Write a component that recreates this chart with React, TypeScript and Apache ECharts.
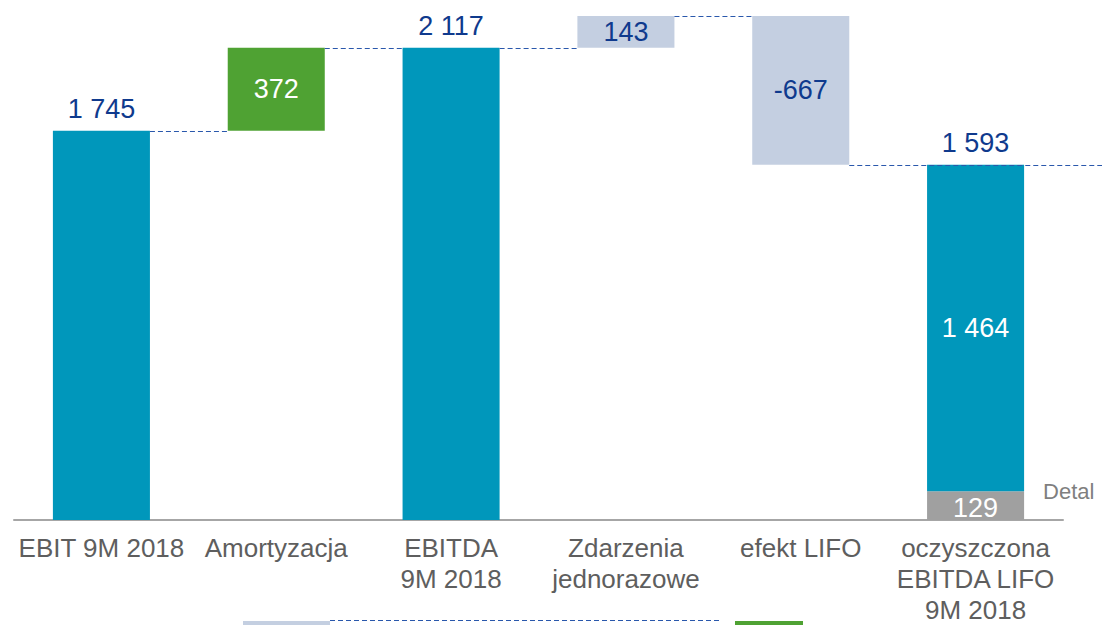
import React, { useEffect, useRef } from "react";
import * as echarts from "echarts";

const categories = [
  "EBIT 9M 2018",
  "Amortyzacja",
  "EBITDA\n9M 2018",
  "Zdarzenia\njednorazowe",
  "efekt LIFO",
  "oczyszczona\nEBITDA LIFO\n9M 2018",
];
// total = full bar from 0; other kinds = floating step
const stepValues = [1745, 372, 2117, 143, -667, 1593];
const stepKinds = ["total", "amort", "total", "oneoff", "lifo", "total"];
const detailValue = 129; // "Detal" part of the last bar
const detailLabel = "Detal";

const COLORS: Record<string, string> = {
  total: "#0097BB",
  amort: "#4FA233",
  oneoff: "#C4CFE1",
  lifo: "#C4CFE1",
  detail: "#A0A0A0",
};
const DARK = "#0F3A8D";
const DASH = "#2A58AC";
const FONT = "'Liberation Sans', Arial, sans-serif";

const fmt = (v: number) => String(v).replace(/\B(?=(\d{3})+(?!\d))/g, " ");

export default function App() {
  const ref = useRef<HTMLDivElement>(null);
  useEffect(() => {
    if (!ref.current) return;
    const chart = echarts.init(ref.current, undefined, { renderer: "svg" });

    const base: number[] = [];
    const heights: number[] = [];
    const levels: number[] = [];
    let running = 0;
    stepValues.forEach((v, i) => {
      if (stepKinds[i] === "total") {
        base.push(0);
        heights.push(v);
        running = v;
      } else if (v >= 0) {
        base.push(running);
        heights.push(v);
        running += v;
      } else {
        base.push(running + v);
        heights.push(-v);
        running += v;
      }
      levels.push(running);
    });

    const last = stepValues.length - 1;
    const detailData = stepValues.map((_, i) => (i === last ? detailValue : "-"));

    const mainData = heights.map((h, i) => {
      const kind = stepKinds[i];
      let value = h;
      if (i === last) value = h - detailValue;
      const isTotal = kind === "total" && i !== last;
      const whiteInside = kind === "amort" || i === last;
      return {
        value,
        itemStyle: { color: COLORS[kind] },
        label: {
          show: true,
          position: isTotal ? "top" : "inside",
          distance: 8,
          color: whiteInside ? "#FFFFFF" : DARK,
          formatter: () => (i === last ? fmt(value) : fmt(stepValues[i])),
        },
      };
    });

    const totalLabelData = stepValues.map((v, i) =>
      i === last
        ? {
            value: 0,
            label: {
              show: true,
              position: "top",
              distance: 8,
              color: DARK,
              formatter: () => fmt(v),
            },
          }
        : "-"
    );

    const connectorData = levels.slice(0, last).map((lv, i) => [i, lv]);
    const BAR_RATIO = 0.555;

    chart.setOption({
      animation: false,
      grid: { left: 14, right: 39, top: 7, bottom: 103, containLabel: false },
      xAxis: {
        type: "category",
        data: categories,
        axisTick: { show: false },
        axisLine: { lineStyle: { color: "#A6A6A6", width: 2 } },
        axisLabel: {
          interval: 0,
          color: "#5E5E5E",
          fontFamily: FONT,
          fontSize: 26,
          lineHeight: 31,
          margin: 12,
        },
      },
      yAxis: {
        type: "value",
        min: 0,
        max: 2300,
        show: false,
        splitLine: { show: false },
      },
      series: [
        {
          type: "bar",
          name: "base",
          stack: "wf",
          barWidth: BAR_RATIO * 100 + "%",
          itemStyle: { color: "transparent" },
          silent: true,
          data: base,
        },
        {
          type: "bar",
          name: "detail",
          stack: "wf",
          barWidth: BAR_RATIO * 100 + "%",
          itemStyle: { color: COLORS.detail },
          label: {
            show: true,
            position: "inside",
            color: "#FFFFFF",
            fontFamily: FONT,
            fontSize: 27,
            offset: [0, 2],
            formatter: (p: any) => fmt(p.value),
          },
          data: detailData,
        },
        {
          type: "bar",
          name: "main",
          stack: "wf",
          barWidth: BAR_RATIO * 100 + "%",
          label: { fontFamily: FONT, fontSize: 27 },
          data: mainData,
        },
        {
          type: "bar",
          name: "totalLabel",
          stack: "wf",
          barWidth: BAR_RATIO * 100 + "%",
          itemStyle: { color: "transparent" },
          label: { fontFamily: FONT, fontSize: 27 },
          data: totalLabelData,
        },
        {
          type: "bar",
          name: "detalLabel",
          barGap: "-100%",
          barWidth: BAR_RATIO * 100 + "%",
          itemStyle: { color: "transparent" },
          label: {
            show: true,
            position: "right",
            distance: 19,
            offset: [0, -14],
            color: "#7F7F7F",
            fontFamily: FONT,
            fontSize: 22,
            formatter: () => detailLabel,
          },
          data: stepValues.map((_, i) => (i === last ? detailValue : "-")),
        },
        {
          type: "custom",
          name: "connectors",
          clip: false,
          silent: true,
          encode: { x: 0, y: 1 },
          renderItem: (params: any, api: any) => {
            const i = api.value(0);
            const lv = api.value(1);
            const p = api.coord([i, lv]);
            const half = (api.size([1, 0])[0] * BAR_RATIO) / 2;
            const x1 = p[0] + half;
            let x2;
            if (i < last - 1) {
              x2 = api.coord([i + 1, lv])[0] - half;
            } else {
              x2 = api.getWidth();
            }
            const y = Math.round(p[1]) + 0.5;
            return {
              type: "line",
              shape: { x1, y1: y, x2, y2: y },
              style: { stroke: DASH, lineWidth: 1.2, lineDash: [5, 3] },
            };
          },
          data: connectorData,
          z: 5,
        },
      ],
      graphic: [
        { type: "rect", shape: { x: 243, y: 621, width: 87, height: 4 }, style: { fill: "#C4CFE1" } },
        {
          type: "line",
          shape: { x1: 330, y1: 620.5, x2: 722, y2: 620.5 },
          style: { stroke: DASH, lineWidth: 1.2, lineDash: [5, 3] },
        },
        { type: "rect", shape: { x: 735, y: 621, width: 68, height: 4 }, style: { fill: "#4FA233" } },
      ],
    });
    return () => chart.dispose();
  }, []);
  return (
    <div
      ref={ref}
      style={{ position: "fixed", left: 0, top: 0, width: 1102, height: 625, background: "#fff" }}
    />
  );
}
